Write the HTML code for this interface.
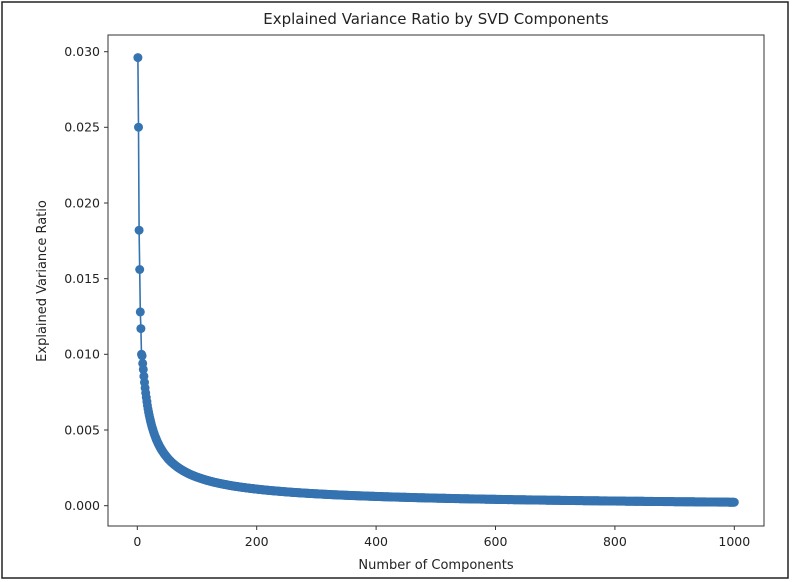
<!DOCTYPE html>
<html><head><meta charset="utf-8"><style>
html,body{margin:0;padding:0;background:#fff;}
svg{display:block;font-family:"DejaVu Sans","Liberation Sans",sans-serif;}
</style></head><body>
<svg id="s" width="793" height="582" viewBox="0 0 793 582" xmlns="http://www.w3.org/2000/svg">
<rect x="2" y="2" width="786" height="576" fill="#fff" stroke="#222" stroke-width="1.5"/>
<text x="436" y="24" font-size="15" text-anchor="middle" fill="#222">Explained Variance Ratio by SVD Components</text>
<rect x="108" y="35" width="656" height="491" fill="none" stroke="#333" stroke-width="1"/>
<g font-size="12.5" fill="#222" text-anchor="end">
<line x1="104" x2="108" y1="505.7" y2="505.7" stroke="#333"/><text x="100" y="510">0.000</text>
<line x1="104" x2="108" y1="430" y2="430" stroke="#333"/><text x="100" y="434.3">0.005</text>
<line x1="104" x2="108" y1="354.3" y2="354.3" stroke="#333"/><text x="100" y="358.6">0.010</text>
<line x1="104" x2="108" y1="278.7" y2="278.7" stroke="#333"/><text x="100" y="283">0.015</text>
<line x1="104" x2="108" y1="203" y2="203" stroke="#333"/><text x="100" y="207.3">0.020</text>
<line x1="104" x2="108" y1="127.3" y2="127.3" stroke="#333"/><text x="100" y="131.6">0.025</text>
<line x1="104" x2="108" y1="51.7" y2="51.7" stroke="#333"/><text x="100" y="56">0.030</text>
</g>
<g font-size="12.5" fill="#222" text-anchor="middle">
<line x1="137.3" x2="137.3" y1="526" y2="530" stroke="#333"/><text x="137.3" y="546">0</text>
<line x1="256.7" x2="256.7" y1="526" y2="530" stroke="#333"/><text x="256.7" y="546">200</text>
<line x1="376.1" x2="376.1" y1="526" y2="530" stroke="#333"/><text x="376.1" y="546">400</text>
<line x1="495.5" x2="495.5" y1="526" y2="530" stroke="#333"/><text x="495.5" y="546">600</text>
<line x1="614.9" x2="614.9" y1="526" y2="530" stroke="#333"/><text x="614.9" y="546">800</text>
<line x1="734.3" x2="734.3" y1="526" y2="530" stroke="#333"/><text x="734.3" y="546">1000</text>
</g>
<text x="436" y="569" font-size="13" text-anchor="middle" fill="#222">Number of Components</text>
<text transform="translate(46,281) rotate(-90)" font-size="13" text-anchor="middle" fill="#222">Explained Variance Ratio</text>
<g id="d"></g>
</svg>
<script>
var first=[0.0296,0.0250,0.0182,0.0156,0.0128,0.0117,0.0100,0.0099,0.0094,0.0090];
function v(n){if(n<=10)return first[n-1];var a=0.0090*Math.pow((n+5)/15,-0.8);var t=(n-10)/990;return a-0.00008*t;}
function X(n){return 137.3+n*0.597;}
function Y(val){return 505.7-val/0.005*75.7;}
var pts=[],c='';
for(var n=1;n<=1000;n++){var x=X(n),y=Y(v(n));pts.push(x.toFixed(1)+','+y.toFixed(1));c+='<circle cx="'+x.toFixed(1)+'" cy="'+y.toFixed(1)+'" r="4.5"/>';}
document.getElementById('d').innerHTML='<polyline points="'+pts.join(' ')+'" fill="none" stroke="#3573b1" stroke-width="1.6"/><g fill="#3573b1">'+c+'</g>';
</script>
</body></html>
